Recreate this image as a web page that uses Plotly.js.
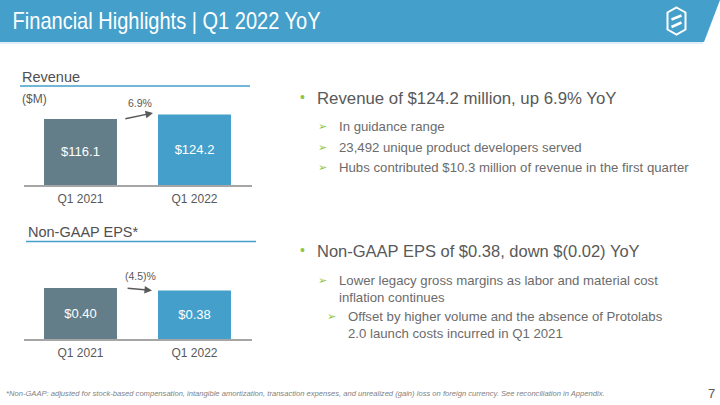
<!DOCTYPE html>
<html>
<head>
<meta charset="utf-8">
<script src="https://cdn.plot.ly/plotly-3.0.1.min.js"></script>
<style>html,body{margin:0;padding:0;background:#fff;}#chart{width:720px;height:405px;}</style>
</head>
<body>
<div id="chart"></div>
<script>
// ---- data ----
const categories = ['Q1 2021', 'Q1 2022'];
const revenue = [116.1, 124.2];
const eps = [0.40, 0.38];
const revChangeLabel = '6.9%';
const epsChangeLabel = '(4.5)%';
const barColors = ['#637E89', '#449FCA'];
const titleText = 'Financial Highlights | Q1 2022 YoY';
const revHeading = 'Revenue';
const revUnit = '($M)';
const epsHeading = 'Non-GAAP EPS*';
const revBullet = 'Revenue of $124.2 million, up 6.9% YoY';
const revSubBullets = ['In guidance range', '23,492 unique product developers served', 'Hubs contributed $10.3 million of revenue in the first quarter'];
const epsBullet = 'Non-GAAP EPS of $0.38, down $(0.02) YoY';
const epsSub1 = ['Lower legacy gross margins as labor and material cost', 'inflation continues'];
const epsSub2 = ['Offset by higher volume and the absence of Protolabs', '2.0 launch costs incurred in Q1 2021'];
const footnote = '*Non-GAAP: adjusted for stock-based compensation, intangible amortization, transaction expenses, and unrealized (gain) loss on foreign currency. See reconciliation in Appendix.';
const pageNumber = '7';

// ---- helpers ----
const W = 720, H = 405;
const px = x => x / W;
const py = y => 1 - y / H;
const FONT = '"Liberation Sans", Arial, sans-serif';
const GRAY = '#595959';
const SUBGRAY = '#6b6b6b';
const GREEN = '#8DC63F';
const BLUE = '#449FCA';
const ARROWFONT = '"DejaVu Sans", sans-serif';

function T(text, x, y, o) {
  o = o || {};
  return {
    text: text, xref: 'paper', yref: 'paper', x: px(x), y: py(y),
    xanchor: o.xanchor || 'left', yanchor: 'middle', showarrow: false,
    font: { family: o.family || FONT, size: o.size || 12, color: o.color || GRAY, weight: o.weight || 'normal' },
    borderpad: 0
  };
}

const traces = [
  {
    type: 'bar', x: categories, y: revenue, xaxis: 'x', yaxis: 'y',
    marker: { color: barColors, line: { width: 0 } },
    text: revenue.map(v => '$' + v.toFixed(1)),
    textposition: 'inside', insidetextanchor: 'middle', constraintext: 'none',
    textfont: { family: FONT, size: 13, color: '#ffffff' },
    hoverinfo: 'skip'
  },
  {
    type: 'bar', x: categories, y: eps, xaxis: 'x2', yaxis: 'y2',
    marker: { color: barColors, line: { width: 0 } },
    text: eps.map(v => '$' + v.toFixed(2)),
    textposition: 'inside', insidetextanchor: 'middle', constraintext: 'none',
    textfont: { family: FONT, size: 13, color: '#ffffff' },
    hoverinfo: 'skip'
  }
];

const xCommon = {
  showgrid: false, zeroline: false, showline: true, linecolor: '#A6A6A6', linewidth: 2,
  ticks: '', tickfont: { family: FONT, size: 12, color: GRAY }, ticklabelstandoff: 2, fixedrange: true
};

const annotations = [
  T(titleText, 166, 21, { size: 24, color: '#ffffff', xanchor: 'center' }),
  T(revHeading, 21, 77, { size: 14.5, color: '#505050' }),
  T(revUnit, 21, 99, { size: 12 }),
  T(epsHeading, 27, 232, { size: 14.5, color: '#505050' }),
  // change arrows (data-referenced)
  { xref: 'x', yref: 'y', x: 0.636, y: revenue[1] * 1.02, axref: 'x', ayref: 'y', ax: 0.38, ay: revenue[0],
    text: '', showarrow: true, arrowhead: 2, arrowsize: 1, arrowwidth: 1.5, arrowcolor: GRAY },
  { xref: 'x', yref: 'y', x: 0.52, y: revenue[1], yanchor: 'bottom', yshift: 3, text: revChangeLabel, showarrow: false,
    font: { family: FONT, size: 10.5, color: GRAY } },
  { xref: 'x2', yref: 'y2', x: 0.627, y: eps[1], axref: 'x2', ayref: 'y2', ax: 0.40, ay: eps[0],
    text: '', showarrow: true, arrowhead: 2, arrowsize: 1, arrowwidth: 1.5, arrowcolor: GRAY },
  { xref: 'x2', yref: 'y2', x: 0.53, y: eps[0], yanchor: 'bottom', yshift: 4, text: epsChangeLabel, showarrow: false,
    font: { family: FONT, size: 10.5, color: GRAY } },
  // right bullets
  T('•', 299, 97, { size: 14, color: GREEN }),
  T(revBullet, 316, 98, { size: 16.8, color: GRAY }),
  T('•', 299, 250, { size: 14, color: GREEN }),
  T(epsBullet, 316, 251, { size: 16.5, color: GRAY }),
  T('<i>' + footnote + '</i>', 5, 393, { size: 7.6, color: '#7f7f7f' }),
  T(pageNumber, 711, 393, { size: 13, color: GRAY, xanchor: 'center' })
];

const SUBSIZE = 13.2;
const subY = [126, 147, 168];
revSubBullets.forEach((s, i) => {
  annotations.push(T('➢', 317, subY[i], { size: 11, color: GREEN, family: ARROWFONT }));
  annotations.push(T(s, 338, subY[i], { size: SUBSIZE, color: SUBGRAY }));
});
annotations.push(T('➢', 317, 280, { size: 11, color: GREEN, family: ARROWFONT }));
annotations.push(T(epsSub1[0], 338, 280, { size: SUBSIZE, color: SUBGRAY }));
annotations.push(T(epsSub1[1], 338, 297, { size: SUBSIZE, color: SUBGRAY }));
annotations.push(T('➢', 326, 316, { size: 11, color: GREEN, family: ARROWFONT }));
annotations.push(T(epsSub2[0], 347, 316, { size: SUBSIZE, color: SUBGRAY }));
annotations.push(T(epsSub2[1], 347, 333, { size: SUBSIZE, color: SUBGRAY }));

const P = (x, y) => px(x).toFixed(5) + ',' + py(y).toFixed(5);
const hex = [[676.5, 7.5], [685.5, 12.5], [685.5, 29.5], [676.5, 34.5], [667.5, 29.5], [667.5, 12.5]];

const shapes = [
  { type: 'path', xref: 'paper', yref: 'paper', path: 'M' + P(0, 0) + 'L' + P(720, 0) + 'L' + P(704, 42) + 'L' + P(0, 42) + 'Z',
    fillcolor: BLUE, line: { width: 0 }, layer: 'below' },
  { type: 'line', xref: 'paper', yref: 'paper', x0: 0, x1: px(703), y0: py(43), y1: py(43), line: { color: '#D4E9F4', width: 1.5 } },
  { type: 'path', xref: 'paper', yref: 'paper', path: 'M' + hex.map(p => P(p[0], p[1])).join('L') + 'Z',
    line: { color: '#ffffff', width: 2 } },
  { type: 'path', xref: 'paper', yref: 'paper', path: 'M' + P(671.5, 19.5) + 'L' + P(681.5, 15.5), line: { color: '#ffffff', width: 2.5 } },
  { type: 'path', xref: 'paper', yref: 'paper', path: 'M' + P(671.5, 27) + 'L' + P(681.5, 22.5), line: { color: '#ffffff', width: 2.5 } },
  { type: 'line', xref: 'paper', yref: 'paper', x0: px(20), x1: px(250), y0: py(86), y1: py(86), line: { color: BLUE, width: 1.5 } },
  { type: 'line', xref: 'paper', yref: 'paper', x0: px(26), x1: px(256), y0: py(241.5), y1: py(241.5), line: { color: BLUE, width: 1.5 } }
];

const layout = {
  width: W, height: H, margin: { l: 0, r: 0, t: 0, b: 0 },
  paper_bgcolor: '#ffffff', plot_bgcolor: 'rgba(0,0,0,0)', showlegend: false,
  bargap: 0.36,
  xaxis: Object.assign({}, xCommon, { domain: [23.5 / W, 251.5 / W], anchor: 'y' }),
  yaxis: { domain: [py(185), py(105)], range: [0, 140.7], visible: false, fixedrange: true },
  xaxis2: Object.assign({}, xCommon, { domain: [23.5 / W, 251.5 / W], anchor: 'y2' }),
  yaxis2: { domain: [py(339), py(279)], range: [0, 0.4706], visible: false, fixedrange: true },
  annotations: annotations,
  shapes: shapes
};

Plotly.newPlot('chart', traces, layout, { staticPlot: true, displayModeBar: false }).then(() => {
  // condense the slide title horizontally, like the original condensed typeface
  document.querySelectorAll('#chart .annotation-text').forEach(t => {
    if (t.textContent === titleText) {
      t.setAttribute('textLength', '308');
      t.setAttribute('lengthAdjust', 'spacingAndGlyphs');
    }
  });
});
</script>
</body>
</html>
